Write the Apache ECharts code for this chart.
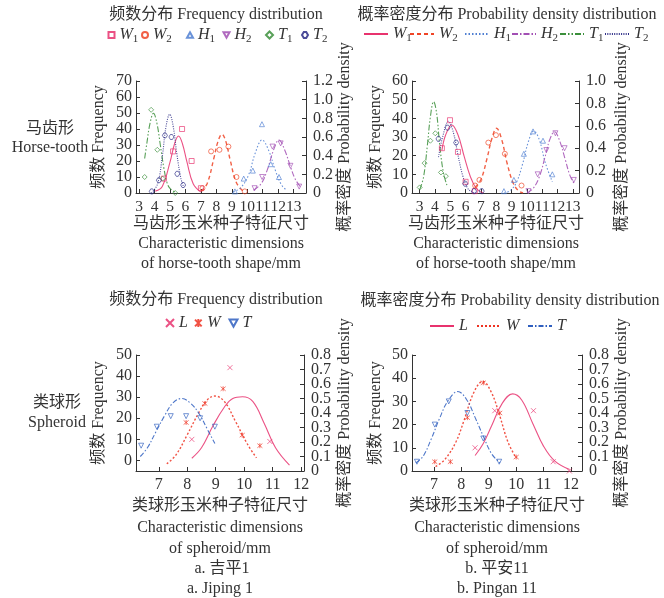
<!DOCTYPE html>
<html><head><meta charset="utf-8">
<script src="https://cdn.jsdelivr.net/npm/echarts@6/dist/echarts.min.js"></script>
<style>html,body{margin:0;padding:0;background:#fff}#c{width:664px;height:598px}</style>
</head><body><div id="c"></div>
<script>
// ---------- 马齿形 吉平1: frequency (count) and density curves ----------
const jpHorseFreqW1 = [[4.6,9],[5.2,26],[5.78,40],[6.4,20],[7.0,3]];
const jpHorseFreqW2 = [[7.1,3],[7.66,26],[8.2,27],[8.78,29],[9.3,10],[9.84,1]];
const jpHorseFreqH1 = [[9.2,1],[9.77,9],[10.36,14],[10.95,43],[11.52,18],[12.05,10]];
const jpHorseFreqH2 = [[10.47,3],[10.96,10],[11.63,29],[12.16,31],[12.79,17],[13.36,4]];
const jpHorseFreqT1 = [[3.36,10],[3.78,52],[4.18,27],[4.52,9],[5.34,0]];
const jpHorseFreqT2 = [[3.82,1],[4.28,8],[4.67,36],[5.09,35],[5.47,12],[5.85,5]];

const jpHorseDensW1 = [[4.05,0.02],[4.5,0.07],[5.0,0.33],[5.3,0.53],[5.55,0.61],[5.8,0.53],[6.1,0.33],[6.5,0.10],[7.0,0.01]];
const jpHorseDensW2 = [[7.0,0.02],[7.4,0.1],[7.85,0.38],[8.1,0.55],[8.36,0.63],[8.6,0.56],[8.9,0.35],[9.3,0.11],[9.8,0.01]];
const jpHorseDensH1 = [[9.1,0.01],[9.6,0.06],[10.1,0.2],[10.5,0.42],[10.96,0.568],[11.4,0.45],[11.8,0.25],[12.2,0.09],[12.47,0.04]];
const jpHorseDensH2 = [[10.4,0.03],[10.9,0.1],[11.3,0.25],[11.7,0.46],[12.05,0.568],[12.4,0.47],[12.8,0.28],[13.1,0.15],[13.42,0.07]];
const jpHorseDensT1 = [[3.36,0.37],[3.5,0.53],[3.7,0.74],[3.93,0.854],[4.15,0.75],[4.37,0.52],[4.6,0.27],[4.81,0.11],[5.0,0.05],[5.4,0.0]];
const jpHorseDensT2 = [[3.8,0.0],[4.2,0.1],[4.5,0.39],[4.75,0.72],[4.98,0.843],[5.2,0.72],[5.45,0.41],[5.7,0.16],[5.87,0.07]];

// ---------- 马齿形 平安11 ----------
const paHorseFreqW1 = [[4.45,24],[4.98,39],[5.5,22],[6.0,6],[6.6,1]];
const paHorseFreqW2 = [[6.62,4],[6.9,7],[7.48,27],[7.98,31],[8.56,21],[9.65,4]];
const paHorseFreqH1 = [[8.5,1],[9.15,7],[9.8,21],[10.4,33],[11.05,28],[11.66,10]];
const paHorseFreqH2 = [[10.1,1],[10.7,10],[11.27,23],[11.86,32],[12.46,24],[13.06,7]];
const paHorseFreqT1 = [[3.0,3],[3.32,16],[3.7,28],[4.02,32],[4.39,11],[4.71,9]];
const paHorseFreqT2 = [[4.23,29],[4.82,35],[5.38,27],[5.97,5],[6.55,1],[7.05,1]];

const paHorseDensW1 = [[4.45,0.38],[4.7,0.52],[5.1,0.607],[5.5,0.52],[5.9,0.33],[6.3,0.15],[6.7,0.04],[7.16,0.0]];
const paHorseDensW2 = [[6.62,0.05],[7.0,0.12],[7.4,0.31],[7.7,0.48],[8.02,0.578],[8.35,0.48],[8.7,0.27],[9.1,0.09],[9.45,0.02],[9.75,0.0]];
const paHorseDensH1 = [[8.5,0.0],[8.9,0.02],[9.3,0.09],[9.7,0.25],[10.1,0.46],[10.45,0.553],[10.8,0.48],[11.2,0.27],[11.66,0.1]];
const paHorseDensH2 = [[10.0,0.0],[10.4,0.04],[10.8,0.14],[11.2,0.33],[11.5,0.48],[11.8,0.547],[12.1,0.48],[12.5,0.3],[12.8,0.16],[13.1,0.08]];
const paHorseDensT1 = [[3.0,0.03],[3.25,0.14],[3.5,0.42],[3.7,0.68],[3.91,0.815],[4.1,0.72],[4.3,0.44],[4.55,0.18],[4.78,0.07]];
const paHorseDensT2 = [[4.23,0.32],[4.5,0.5],[4.88,0.64],[5.2,0.54],[5.5,0.34],[5.8,0.16],[6.1,0.05],[6.4,0.01],[6.72,0.0]];

// ---------- 类球形 吉平1 ----------
const jpSphFreqL = [[8.16,10],[9.5,44],[10.9,9]];
const jpSphFreqW = [[7.96,18],[8.62,27],[9.26,34],[9.93,12],[10.55,7]];
const jpSphFreqT = [[6.38,7],[6.93,16],[7.42,21],[7.96,21],[8.45,20],[8.97,16]];
const jpSphDensL = [[8.16,0.088],[8.5,0.16],[8.9,0.31],[9.3,0.44],[9.6,0.5],[9.94,0.512],[10.3,0.48],[10.7,0.33],[11.1,0.16],[11.59,0.04]];
const jpSphDensW = [[7.28,0.05],[7.6,0.11],[8.0,0.25],[8.4,0.4],[8.7,0.49],[8.97,0.517],[9.3,0.48],[9.7,0.34],[10.1,0.19],[10.43,0.09]];
const jpSphDensT = [[6.35,0.1],[6.6,0.16],[6.9,0.27],[7.2,0.38],[7.5,0.47],[7.81,0.5],[8.1,0.47],[8.4,0.4],[8.7,0.29],[8.97,0.19]];

// ---------- 类球形 平安11 ----------
const paSphFreqL = [[8.5,10],[9.22,26],[10.63,26],[11.35,4],[11.94,0]];
const paSphFreqW = [[7.03,4],[7.6,4],[8.22,23],[8.8,38],[9.4,25],[10.0,6]];
const paSphFreqT = [[6.38,4],[7.03,20],[7.54,30],[8.22,25],[8.8,14],[9.38,4]];
const paSphDensL = [[8.5,0.107],[8.8,0.19],[9.1,0.31],[9.5,0.47],[9.87,0.532],[10.2,0.49],[10.6,0.33],[11.0,0.17],[11.4,0.07],[11.95,0.01]];
const paSphDensW = [[7.06,0.03],[7.4,0.08],[7.8,0.2],[8.1,0.35],[8.45,0.54],[8.78,0.617],[9.1,0.54],[9.4,0.38],[9.7,0.2],[10.0,0.09]];
const paSphDensT = [[6.34,0.056],[6.6,0.1],[6.9,0.22],[7.2,0.36],[7.5,0.48],[7.87,0.548],[8.2,0.49],[8.5,0.37],[8.8,0.24],[9.1,0.12],[9.41,0.056]];

// ---------- tick labels ----------
const horseXTicks = [3,4,5,6,7,8,9,10,11,12,13];
const sphXTicks = [7,8,9,10,11,12];
const jpHorseFreqTicks = [0,10,20,30,40,50,60,70];
const jpHorseDensTicks = [0,0.2,0.4,0.6,0.8,1.0,1.2];
const paHorseFreqTicks = [0,10,20,30,40,50,60];
const paHorseDensTicks = [0,0.2,0.4,0.6,0.8,1.0];
const sphFreqTicks = [0,10,20,30,40,50];
const sphDensTicks = [0,0.1,0.2,0.3,0.4,0.5,0.6,0.7,0.8];
// the tightly spaced density labels are split over two label rows on the same side
const sphDensLabelsEven = [0,0.2,0.4,0.6,0.8];
const sphDensLabelsOdd = [0.1,0.3,0.5,0.7];

const FONT = "'Liberation Serif','Noto Sans CJK SC',serif";
const TXT = '#333';
const AX = '#333';

const C = {
  W1:'#e8336e', W2:'#ef4426', H1:'#4f7fd2', H2:'#a24fb4', T1:'#3b8f3b', T2:'#2c2c86',
  L:'#e8336e', W:'#ee3322', T:'#2f5fbf'
};
const DASH = {
  W1:'solid', W2:[4,3], H1:[1.5,2], H2:[6,2,1.5,2], T1:[6,2,1.5,2,1.5,2], T2:[1,1.3],
  L:'solid', W:[2,2], T:[5,2,1.5,2]
};
const SYM = {
  W1:'path://M0,0L10,0L10,10L0,10Z',
  W2:'circle',
  H1:'path://M5,0L10,9L0,9Z',
  H2:'path://M0,0L10,0L5,9Z',
  T1:'path://M5,0L10,5L5,10L0,5Z',
  T2:'path://M3,0L7,0L10,5L7,10L3,10L0,5Z',
  L:'path://M0,0L10,10M10,0L0,10',
  W:'path://M0,0L10,10M10,0L0,10M5,-1L5,11',
  T:'path://M0,0L10,0L5,9Z'
};
const LABEL = {
  W1:['W','1'], W2:['W','2'], H1:['H','1'], H2:['H','2'], T1:['T','1'], T2:['T','2'],
  L:['L',''], W:['W',''], T:['T','']
};

function fmtDens(v){ return v === 0 ? '0' : v.toFixed(1); }

function xAxisCfg(grid, min, max, ticks, size){
  return {type:'value', gridIndex:grid, min:min, max:max,
    axisLine:{show:true, onZero:false, lineStyle:{color:AX, width:1}},
    axisTick:{show:true, inside:true, length:4, customValues:ticks, lineStyle:{color:AX}},
    axisLabel:{customValues:ticks, showMinLabel:true, showMaxLabel:true, hideOverlap:false,
      fontFamily:FONT, fontSize:size||16, color:TXT, margin:6},
    splitLine:{show:false}};
}
function yAxisCfg(grid, pos, min, max, ticks, fmt, labels){
  return {type:'value', gridIndex:grid, position:pos, min:min, max:max,
    axisLine:{show:true, onZero:false, lineStyle:{color:AX, width:1}},
    axisTick:{show:true, inside:true, length:4, customValues:ticks, lineStyle:{color:AX}},
    axisLabel:{customValues:labels||ticks, showMinLabel:true, showMaxLabel:true, hideOverlap:false,
      formatter:fmt, fontFamily:FONT, fontSize:16, color:TXT, margin:pos==='left'?4:7},
    splitLine:{show:false}};
}
// label-only companion axis (no line, no ticks)
function yLabelAxis(grid, pos, min, max, labels, fmt){
  return {type:'value', gridIndex:grid, position:pos, min:min, max:max,
    axisLine:{show:false}, axisTick:{show:false},
    axisLabel:{customValues:labels, showMinLabel:true, showMaxLabel:true, hideOverlap:false,
      formatter:fmt, fontFamily:FONT, fontSize:16, color:TXT, margin:7},
    splitLine:{show:false}};
}

const series = [];
function addScatter(id, key, panel, data){
  series.push({type:'scatter', name:id, xAxisIndex:panel, yAxisIndex:panel*2, data:data,
    symbol:SYM[key], symbolSize:5,
    itemStyle:{color:'transparent', borderColor:C[key], borderWidth:0.9, opacity:0.75}, z:4});
}
function addCurve(id, key, panel, data){
  series.push({type:'line', name:id, xAxisIndex:panel, yAxisIndex:panel*2+1, data:data,
    smooth:0.4, symbol:'none',
    lineStyle:{color:C[key], width:(key==='W'||key==='W2')?1.4:1.1, type:DASH[key], opacity:0.85},
    itemStyle:{color:C[key]}, z:3});
}

// panel 0: 吉平1 马齿形, panel 1: 平安11 马齿形, panel 2: 吉平1 类球形, panel 3: 平安11 类球形
addScatter('jW1','W1',0,jpHorseFreqW1); addScatter('jW2','W2',0,jpHorseFreqW2);
addScatter('jH1','H1',0,jpHorseFreqH1); addScatter('jH2','H2',0,jpHorseFreqH2);
addScatter('jT1','T1',0,jpHorseFreqT1); addScatter('jT2','T2',0,jpHorseFreqT2);
addCurve('jdW1','W1',0,jpHorseDensW1); addCurve('jdW2','W2',0,jpHorseDensW2);
addCurve('jdH1','H1',0,jpHorseDensH1); addCurve('jdH2','H2',0,jpHorseDensH2);
addCurve('jdT1','T1',0,jpHorseDensT1); addCurve('jdT2','T2',0,jpHorseDensT2);

addScatter('pW1','W1',1,paHorseFreqW1); addScatter('pW2','W2',1,paHorseFreqW2);
addScatter('pH1','H1',1,paHorseFreqH1); addScatter('pH2','H2',1,paHorseFreqH2);
addScatter('pT1','T1',1,paHorseFreqT1); addScatter('pT2','T2',1,paHorseFreqT2);
addCurve('pdW1','W1',1,paHorseDensW1); addCurve('pdW2','W2',1,paHorseDensW2);
addCurve('pdH1','H1',1,paHorseDensH1); addCurve('pdH2','H2',1,paHorseDensH2);
addCurve('pdT1','T1',1,paHorseDensT1); addCurve('pdT2','T2',1,paHorseDensT2);

addScatter('jsL','L',2,jpSphFreqL); addScatter('jsW','W',2,jpSphFreqW); addScatter('jsT','T',2,jpSphFreqT);
addCurve('jsdL','L',2,jpSphDensL); addCurve('jsdW','W',2,jpSphDensW); addCurve('jsdT','T',2,jpSphDensT);

addScatter('psL','L',3,paSphFreqL); addScatter('psW','W',3,paSphFreqW); addScatter('psT','T',3,paSphFreqT);
addCurve('psdL','L',3,paSphDensL); addCurve('psdW','W',3,paSphDensW); addCurve('psdT','T',3,paSphDensT);

const seriesKey = {};
series.forEach(s => { seriesKey[s.name] = s.name.replace(/^(jsd|psd|js|ps|jd|pd|j|p)/,''); });

const legendRich = {
  m:{fontFamily:FONT, fontStyle:'italic', fontSize:16, color:TXT},
  s:{fontFamily:FONT, fontSize:11, color:TXT, padding:[8,0,0,0]}
};
function legendItem(name, left, top, w, h, isLine){
  const lg = {data:[name], left:left, top:top, padding:0, itemWidth:w, itemHeight:h, itemGap:0,
    selectedMode:false,
    formatter: n => { const l = LABEL[seriesKey[n]]; return l[1] ? '{m|'+l[0]+'}{s|'+l[1]+'}' : '{m|'+l[0]+'}'; },
    textStyle:{rich:legendRich}};
  if (isLine) {
    // line-only key: hide the marker the line legend draws in the middle
    lg.itemStyle = {opacity:0, color:'transparent', borderWidth:0};
    lg.lineStyle = {opacity:1};
  } else {
    lg.itemStyle = {opacity:0.85};
  }
  return lg;
}
const legends = [
  legendItem('jW1',107.5,27,6,6), legendItem('jW2',141,27,6,6), legendItem('jH1',186,27,6,6),
  legendItem('jH2',222.5,27,6,6), legendItem('jT1',265,27,7,7), legendItem('jT2',301,27,6,6),
  legendItem('pdW1',363,26,24,10,true), legendItem('pdW2',409,26,24,10,true), legendItem('pdH1',464,26,24,10,true),
  legendItem('pdH2',511,26,24,10,true), legendItem('pdT1',559,26,24,10,true), legendItem('pdT2',604,26,24,10,true),
  legendItem('jsL',165,315,8,8), legendItem('jsW',194,315,8,8), legendItem('jsT',228.5,315,8,8),
  legendItem('psdL',429,318,24,10,true), legendItem('psdW',476,318,24,10,true), legendItem('psdT',527,318,24,10,true)
];

function txt(text, x, y, size, rot){
  const e = {type:'text', x:x, y:y, style:{text:text, font:(size||16)+'px '+FONT, fill:TXT, align:'center', verticalAlign:'middle'}};
  if (rot) e.rotation = rot;
  return e;
}
const R = Math.PI/2;
const graphics = [
  txt('频数分布 Frequency distribution',216,15),
  txt('概率密度分布 Probability density distribution',507,15),
  txt('马齿形',50,129), txt('Horse-tooth',50,148),
  txt('频数 Frequency',99,137,16,R), txt('频数 Frequency',376,137,16,R),
  txt('概率密度 Probability density',345,137,16,R), txt('概率密度 Probability density',622,137,16,R),
  txt('马齿形玉米种子特征尺寸',221,224), txt('Characteristic dimensions',221,244), txt('of horse-tooth shape/mm',221,264),
  txt('马齿形玉米种子特征尺寸',496,224), txt('Characteristic dimensions',496,244), txt('of horse-tooth shape/mm',496,264),
  txt('频数分布 Frequency distribution',216,300),
  txt('概率密度分布 Probability density distribution',510,301),
  txt('类球形',57,403), txt('Spheroid',57,423),
  txt('频数 Frequency',99,413,16,R), txt('频数 Frequency',376,413,16,R),
  txt('概率密度 Probability density',345,413,16,R), txt('概率密度 Probability density',622,413,16,R),
  txt('类球形玉米种子特征尺寸',220,506), txt('Characteristic dimensions',220,528), txt('of spheroid/mm',220,549),
  txt('a. 吉平1',222,569), txt('a. Jiping 1',220,589),
  txt('类球形玉米种子特征尺寸',497,506), txt('Characteristic dimensions',497,528), txt('of spheroid/mm',497,549),
  txt('b. 平安11',497,569), txt('b. Pingan 11',497,589)
];

const option = {
  animation:false,
  backgroundColor:'#fff',
  grid:[
    {left:136, top:81, width:170, height:112},
    {left:412, top:81, width:167, height:112},
    {left:136, top:355, width:168, height:116},
    {left:412, top:355, width:170, height:116}
  ],
  xAxis:[
    xAxisCfg(0,2.8,13.8,horseXTicks,15.5),
    xAxisCfg(1,2.5,13.4,horseXTicks,15.5),
    xAxisCfg(2,6.2,12.1,sphXTicks),
    xAxisCfg(3,6.2,12.4,sphXTicks)
  ],
  yAxis:[
    yAxisCfg(0,'left',0,70,jpHorseFreqTicks),
    yAxisCfg(0,'right',0,1.2,jpHorseDensTicks,fmtDens),
    yAxisCfg(1,'left',0,60,paHorseFreqTicks),
    yAxisCfg(1,'right',0,1.0,paHorseDensTicks,fmtDens),
    yAxisCfg(2,'left',-5,50,sphFreqTicks),
    yAxisCfg(2,'right',0,0.8,sphDensTicks,fmtDens,sphDensLabelsEven),
    yAxisCfg(3,'left',0,50,sphFreqTicks),
    yAxisCfg(3,'right',0,0.8,sphDensTicks,fmtDens,sphDensLabelsEven),
    yLabelAxis(2,'right',0,0.8,sphDensLabelsOdd,fmtDens),
    yLabelAxis(3,'right',0,0.8,sphDensLabelsOdd,fmtDens)
  ],
  legend:legends,
  graphic:graphics,
  series:series
};
const chart = echarts.init(document.getElementById('c'), null, {renderer:'canvas'});
chart.setOption(option);
</script></body></html>
